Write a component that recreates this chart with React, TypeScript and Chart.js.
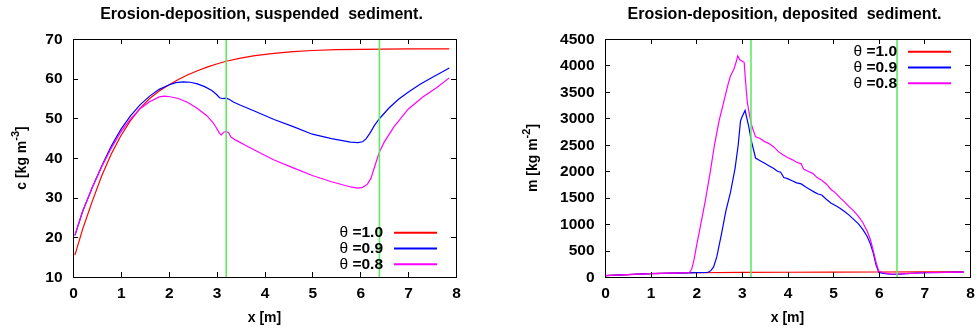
import React, { useEffect, useRef } from 'react';
import { Chart, registerables } from 'chart.js';

Chart.register(...registerables);

const FONT = '"Liberation Sans", Arial, Helvetica, sans-serif';

// ---------- shared ----------
const seriesLabels = ['θ =1.0', 'θ =0.9', 'θ =0.8'];
const seriesColors = ['#ff0000', '#0000ff', '#ff00ff'];
const markerX = [3.2, 6.4];
const xTickValues = [0, 1, 2, 3, 4, 5, 6, 7, 8];

// ---------- left panel: suspended sediment c [kg m^-3] ----------
const cTickValues = [10, 20, 30, 40, 50, 60, 70];

const cRedX = [0.04, 0.2, 0.4, 0.6, 0.8, 1.0, 1.2, 1.4, 1.6, 1.8, 2.0, 2.2, 2.4, 2.6, 2.8, 3.0, 3.2, 3.5, 3.8, 4.2, 4.6, 5.0, 5.5, 6.0, 6.5, 7.0, 7.5, 7.86];
const cRedY = [15.5, 22, 29, 35.5, 41, 45.6, 49.4, 52.5, 55.0, 56.9, 58.4, 59.8, 61.0, 62.0, 62.9, 63.7, 64.4, 65.2, 65.8, 66.4, 66.8, 67.1, 67.3, 67.4, 67.45, 67.5, 67.5, 67.5];

const cBlueX = [0.04, 0.2, 0.4, 0.6, 0.8, 1.0, 1.2, 1.4, 1.6, 1.8, 2.0, 2.15, 2.3, 2.45, 2.6, 2.75, 2.9, 3.0, 3.06, 3.12, 3.2, 3.26, 3.35, 3.5, 3.8, 4.2, 4.6, 5.0, 5.4, 5.8, 5.95, 6.05, 6.12, 6.2, 6.3, 6.4, 6.6, 6.8, 7.0, 7.25, 7.5, 7.7, 7.86];
const cBlueY = [20.5, 26.5, 32.5, 38, 43, 47.2, 50.6, 53.4, 55.6, 57.3, 58.4, 59.0, 59.2, 59.1, 58.7, 58.0, 57.0, 56.0, 55.2, 55.0, 55.1, 54.8, 54.1, 53.3, 51.8, 49.7, 47.9, 46.0, 44.9, 44.0, 43.9, 44.1, 44.8, 46.2, 48.3, 49.9, 52.6, 54.8, 56.6, 58.6, 60.3, 61.6, 62.7];

const cMagX = [0.04, 0.2, 0.4, 0.6, 0.8, 1.0, 1.2, 1.4, 1.6, 1.8, 1.9, 2.0, 2.2, 2.4, 2.6, 2.8, 2.92, 3.0, 3.06, 3.1, 3.15, 3.2, 3.25, 3.3, 3.4, 3.6, 3.9, 4.2, 4.6, 5.0, 5.4, 5.8, 5.95, 6.05, 6.15, 6.22, 6.3, 6.4, 6.5, 6.7, 7.0, 7.3, 7.6, 7.86];
const cMagY = [20.5, 26.5, 32.5, 37.8, 42.5, 46.6, 49.8, 52.4, 54.2, 55.4, 55.6, 55.5, 55.0, 54.0, 52.5, 50.6, 49.0, 47.5, 46.2, 45.8, 46.5, 46.7, 46.4, 45.3, 44.5, 43.2, 41.3, 39.5, 37.5, 35.6, 34.0, 32.7, 32.4, 32.6, 33.4, 34.8, 37.8, 41.5, 44.0, 47.8, 52.3, 55.3, 57.8, 60.2];

// ---------- right panel: deposited sediment m [kg m^-2] ----------
const mTickValues = [0, 500, 1000, 1500, 2000, 2500, 3000, 3500, 4000, 4500];

const mRedX = [0, 0.5, 1.0, 1.5, 2.0, 3.0, 4.0, 5.0, 6.0, 7.0, 7.86];
const mRedY = [25, 45, 62, 74, 80, 86, 90, 93, 95, 96, 97];

const mBlueX = [0, 0.5, 1.0, 1.5, 2.0, 2.25, 2.32, 2.38, 2.45, 2.55, 2.65, 2.75, 2.85, 2.92, 2.97, 3.0, 3.07, 3.15, 3.2, 3.3, 3.4, 3.5, 3.6, 3.7, 3.78, 3.85, 3.92, 4.0, 4.1, 4.2, 4.3, 4.4, 4.5, 4.6, 4.67, 4.75, 4.85, 4.95, 5.05, 5.15, 5.25, 5.35, 5.45, 5.55, 5.65, 5.75, 5.82, 5.88, 5.94, 6.0, 6.1, 6.25, 6.4, 6.6, 7.0, 7.5, 7.86];
const mBlueY = [25, 45, 62, 74, 82, 85, 120, 190, 380, 800, 1250, 1600, 2050, 2500, 2950, 3020, 3150, 2850, 2600, 2250, 2200, 2150, 2100, 2050, 2000, 1980, 1880, 1860, 1820, 1780, 1760, 1700, 1650, 1600, 1570, 1550, 1470, 1400, 1350, 1300, 1240, 1170, 1090, 1010, 900, 760, 620, 450, 230, 90, 70, 55, 50, 65, 80, 88, 92];

const mMagX = [0, 0.5, 1.0, 1.5, 1.85, 1.9, 1.95, 2.0, 2.1, 2.2, 2.3, 2.4, 2.5, 2.6, 2.7, 2.75, 2.82, 2.87, 2.91, 2.96, 3.05, 3.08, 3.12, 3.17, 3.22, 3.3, 3.4, 3.5, 3.6, 3.7, 3.8, 3.9, 4.0, 4.1, 4.2, 4.3, 4.35, 4.45, 4.55, 4.65, 4.75, 4.85, 4.95, 5.05, 5.15, 5.25, 5.35, 5.45, 5.55, 5.65, 5.75, 5.82, 5.88, 5.94, 6.0, 6.1, 6.25, 6.4, 6.6, 7.0, 7.5, 7.86];
const mMagY = [25, 45, 62, 74, 85, 150, 320, 560, 1000, 1450, 1950, 2500, 2950, 3300, 3650, 3800, 3920, 4050, 4180, 4100, 4060, 3700, 3300, 3050, 2850, 2650, 2620, 2560, 2520, 2460, 2370, 2310, 2260, 2220, 2170, 2140, 2040, 2000, 1960, 1880, 1830, 1760, 1660, 1590, 1500, 1420, 1330, 1250, 1150, 1030, 860, 700, 500, 280, 110, 80, 60, 55, 65, 80, 88, 92];

type PanelCfg = {
  title: string;
  yTitle: string;
  ySup: string;
  yTitleX: number;
  yMin: number;
  yMax: number;
  yTicks: number[];
  series: { xs: number[]; ys: number[] }[];
  leftWidth: number;
  rightPad: number;
  legendAtBottom: boolean;
  left: number;
};

const panels: PanelCfg[] = [
  {
    title: 'Erosion-deposition, suspended  sediment.',
    yTitle: 'c [kg m',
    ySup: '-3',
    yTitleX: 22,
    yMin: 10,
    yMax: 70,
    yTicks: cTickValues,
    series: [
      { xs: cRedX, ys: cRedY },
      { xs: cBlueX, ys: cBlueY },
      { xs: cMagX, ys: cMagY },
    ],
    leftWidth: 73,
    rightPad: 32,
    legendAtBottom: true,
    left: 0,
  },
  {
    title: 'Erosion-deposition, deposited  sediment.',
    yTitle: 'm [kg m',
    ySup: '-2',
    yTitleX: 45,
    yMin: 0,
    yMax: 4500,
    yTicks: mTickValues,
    series: [
      { xs: mRedX, ys: mRedY },
      { xs: mBlueX, ys: mBlueY },
      { xs: mMagX, ys: mMagY },
    ],
    leftWidth: 117,
    rightPad: 6,
    legendAtBottom: false,
    left: 488,
  },
];

const TICK_FONT = `bold 15.5px ${FONT}`;

const gpPlugin = {
  id: 'gp',
  afterDatasetsDraw(chart: any, _args: any, opts: any) {
    const { ctx, chartArea: a, scales } = chart;
    const xs = scales.x;
    const ys = scales.y;
    ctx.save();
    // frame
    ctx.strokeStyle = '#000';
    ctx.lineWidth = 1;
    ctx.strokeRect(a.left + 0.5, a.top + 0.5, a.right - a.left, a.bottom - a.top);
    // inward ticks on all four sides
    ctx.beginPath();
    const tl = 5;
    xTickValues.forEach((v) => {
      if (v === xs.min || v === xs.max) return;
      const p = Math.round(xs.getPixelForValue(v)) + 0.5;
      ctx.moveTo(p, a.bottom);
      ctx.lineTo(p, a.bottom - tl);
      ctx.moveTo(p, a.top);
      ctx.lineTo(p, a.top + tl);
    });
    (opts.yTicks as number[]).forEach((v) => {
      if (v === ys.min || v === ys.max) return;
      const p = Math.round(ys.getPixelForValue(v)) + 0.5;
      ctx.moveTo(a.left, p);
      ctx.lineTo(a.left + tl, p);
      ctx.moveTo(a.right, p);
      ctx.lineTo(a.right - tl, p);
    });
    ctx.stroke();

    ctx.fillStyle = '#000';
    // tick labels
    ctx.font = TICK_FONT;
    ctx.textBaseline = 'middle';
    ctx.textAlign = 'center';
    xTickValues.forEach((v) => {
      ctx.fillText(String(v), xs.getPixelForValue(v) + 0.5, a.bottom + 16.5);
    });
    ctx.textAlign = 'right';
    (opts.yTicks as number[]).forEach((v) => {
      ctx.fillText(String(v), a.left - 10.5, ys.getPixelForValue(v) + 0.5);
    });

    // title
    ctx.font = `bold 16px ${FONT}`;
    ctx.textAlign = 'center';
    ctx.textBaseline = 'middle';
    ctx.fillText(opts.title, (a.left + a.right) / 2 - 3, 15);
    // x title
    ctx.font = `bold 14px ${FONT}`;
    ctx.fillText('x [m]', (a.left + a.right) / 2, 318);
    // y title with superscript
    ctx.save();
    ctx.translate(opts.yTitleX, (a.top + a.bottom) / 2);
    ctx.rotate(-Math.PI / 2);
    ctx.textAlign = 'left';
    const mainFont = `bold 14px ${FONT}`;
    const supFont = `bold 11px ${FONT}`;
    ctx.font = mainFont;
    const w1 = ctx.measureText(opts.yTitle).width;
    const w3 = ctx.measureText(']').width;
    ctx.font = supFont;
    const w2 = ctx.measureText(opts.ySup).width;
    let x0 = -(w1 + w2 + w3) / 2;
    ctx.font = mainFont;
    ctx.fillText(opts.yTitle, x0, 0);
    x0 += w1;
    ctx.font = supFont;
    ctx.fillText(opts.ySup, x0, -6);
    x0 += w2;
    ctx.font = mainFont;
    ctx.fillText(']', x0, 0);
    ctx.restore();

    // legend
    const offs = [12.7, 28.5, 44.3];
    seriesLabels.forEach((lab, i) => {
      const rowY = opts.legendAtBottom ? a.bottom - offs[2 - i] : a.top + offs[i];
      const textRight = a.right - 73;
      const greek = lab.slice(0, 1);
      const rest = lab.slice(1);
      ctx.textAlign = 'right';
      ctx.textBaseline = 'middle';
      ctx.font = `bold 15.5px ${FONT}`;
      const wr = ctx.measureText(rest).width;
      ctx.fillText(rest, textRight, rowY);
      ctx.font = `15.5px ${FONT}`;
      ctx.fillText(greek, textRight - wr, rowY);
      ctx.strokeStyle = seriesColors[i];
      ctx.lineWidth = 2;
      ctx.beginPath();
      ctx.moveTo(a.right - 62, rowY);
      ctx.lineTo(a.right - 19, rowY);
      ctx.stroke();
    });
    ctx.restore();
  },
};

function Panel({ cfg }: { cfg: PanelCfg }) {
  const ref = useRef<HTMLCanvasElement | null>(null);
  useEffect(() => {
    if (!ref.current) return;
    const datasets: any[] = [];
    markerX.forEach((mx) => {
      datasets.push({
        data: [
          { x: mx, y: cfg.yMin },
          { x: mx, y: cfg.yMax },
        ],
        borderColor: 'rgb(95,235,95)',
        borderWidth: 1.6,
        pointRadius: 0,
        order: 0,
      });
    });
    cfg.series.forEach((s, i) => {
      datasets.push({
        label: seriesLabels[i],
        data: s.xs.map((x, j) => ({ x, y: s.ys[j] })),
        borderColor: seriesColors[i],
        borderWidth: 1.2,
        pointRadius: 0,
        tension: 0,
        fill: false,
        order: 3 - i,
      });
    });
    const chart = new Chart(ref.current, {
      type: 'line',
      data: { datasets },
      plugins: [gpPlugin],
      options: {
        responsive: false,
        animation: false,
        devicePixelRatio: 1,
        layout: { padding: { left: 0, top: 39, right: cfg.rightPad, bottom: 0 } },
        plugins: {
          legend: { display: false },
          tooltip: { enabled: false },
          title: { display: false },
          gp: {
            title: cfg.title,
            yTitle: cfg.yTitle,
            ySup: cfg.ySup,
            yTitleX: cfg.yTitleX,
            yTicks: cfg.yTicks,
            legendAtBottom: cfg.legendAtBottom,
          },
        } as any,
        scales: {
          x: {
            type: 'linear',
            min: 0,
            max: 8,
            grid: { display: false },
            border: { display: false },
            ticks: { display: false },
            afterBuildTicks: (s: any) => {
              s.ticks = xTickValues.map((v) => ({ value: v }));
            },
            afterFit: (s: any) => {
              s.height = 52;
            },
          },
          y: {
            type: 'linear',
            min: cfg.yMin,
            max: cfg.yMax,
            grid: { display: false },
            border: { display: false },
            ticks: { display: false },
            afterBuildTicks: (s: any) => {
              s.ticks = cfg.yTicks.map((v) => ({ value: v }));
            },
            afterFit: (s: any) => {
              s.width = cfg.leftWidth;
            },
          },
        },
      } as any,
    });
    return () => chart.destroy();
  }, [cfg]);
  return (
    <canvas
      ref={ref}
      width={488}
      height={329}
      style={{ position: 'absolute', left: cfg.left, top: 0, width: 488, height: 329, display: 'block' }}
    />
  );
}

export default function App() {
  return (
    <div style={{ position: 'fixed', left: 0, top: 0, width: 976, height: 329, background: '#fff', overflow: 'hidden' }}>
      {panels.map((p, i) => (
        <Panel key={i} cfg={p} />
      ))}
    </div>
  );
}
